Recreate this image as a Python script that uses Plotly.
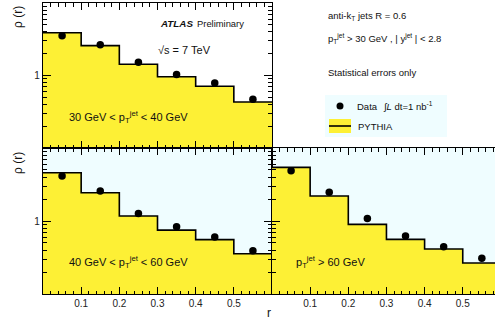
import plotly.graph_objects as go

# ---------------- data ----------------
bin_edges = [0.0, 0.1, 0.2, 0.3, 0.4, 0.5, 0.6]
bin_centers = [0.05, 0.15, 0.25, 0.35, 0.45, 0.55]

# 30 GeV < pT < 40 GeV
mc_30_40 = [3.88, 2.58, 1.43, 0.96, 0.71, 0.43]
data_30_40 = [3.53, 2.66, 1.52, 1.03, 0.79, 0.47]
# 40 GeV < pT < 60 GeV
mc_40_60 = [4.59, 2.44, 1.17, 0.75, 0.555, 0.356]
data_40_60 = [4.13, 2.58, 1.27, 0.836, 0.604, 0.392]
# pT > 60 GeV
mc_60 = [5.43, 2.20, 0.90, 0.561, 0.413, 0.266]
data_60 = [4.89, 2.47, 1.08, 0.624, 0.445, 0.308]

x_tick_vals = [0.1, 0.2, 0.3, 0.4, 0.5]
x_tick_text = ["0.1", "0.2", "0.3", "0.4", "0.5"]
y_tick_vals = [1]
y_tick_text = ["1"]
y_minor_vals = [0.2, 0.3, 0.4, 0.5, 0.6, 0.7, 0.8, 0.9, 2, 3, 4, 5, 6, 7, 8, 9]

# ---------------- style ----------------
W, H = 495, 323
YELLOW = "#fdf035"
CYAN = "#effdff"
FONT = "Liberation Sans, Arial, Helvetica, sans-serif"


def px(x):
    return x / W


def py(y):
    return 1 - y / H


fig = go.Figure()

panels = [
    ("x", "y", mc_30_40, data_30_40),
    ("x2", "y2", mc_40_60, data_40_60),
    ("x3", "y3", mc_60, data_60),
]

for xa, ya, mc, dat in panels:
    fig.add_trace(go.Bar(x=bin_centers, y=mc, width=0.1, marker=dict(color=YELLOW, line=dict(width=0)),
                         xaxis=xa, yaxis=ya, showlegend=False, hoverinfo="skip"))
    fig.add_trace(go.Scatter(x=bin_edges, y=mc + [mc[-1]], mode="lines", line=dict(color="black", width=1.6, shape="hv"),
                             xaxis=xa, yaxis=ya, showlegend=False, hoverinfo="skip"))
    fig.add_trace(go.Scatter(x=bin_centers, y=dat, mode="markers", marker=dict(color="black", size=7.5),
                             xaxis=xa, yaxis=ya, showlegend=False))

left_dom = [px(43), px(272)]
right_dom = [px(272), 1.0]
top_dom = [py(148), py(3)]
bot_dom = [py(294), py(148)]

common_x = dict(range=[0, 0.6], showline=True, linecolor="black", linewidth=1.2, mirror="allticks",
                ticks="inside", ticklen=7, tickwidth=1, tickcolor="black", tickvals=x_tick_vals,
                ticktext=x_tick_text, showgrid=False, zeroline=False,
                tickfont=dict(family=FONT, size=10, color="#222"),
                minor=dict(ticks="inside", dtick=0.02, tick0=0, ticklen=3.5, tickcolor="black", showgrid=False))
common_y = dict(type="log", range=[-1, 1], showline=True, linecolor="black", linewidth=1.2, mirror="allticks",
                ticks="inside", ticklen=8, tickwidth=1, tickcolor="black", tickvals=y_tick_vals,
                ticktext=y_tick_text, showgrid=False, zeroline=False,
                tickfont=dict(family=FONT, size=10, color="#222"),
                minor=dict(ticks="inside", tickvals=y_minor_vals, ticklen=4, tickcolor="black", showgrid=False))

fig.update_layout(
    xaxis=dict(common_x, domain=left_dom, anchor="y", showticklabels=False),
    yaxis=dict(common_y, domain=top_dom, anchor="x"),
    xaxis2=dict(common_x, domain=left_dom, anchor="y2"),
    yaxis2=dict(common_y, domain=bot_dom, anchor="x2"),
    xaxis3=dict(common_x, domain=right_dom, anchor="y3", range=[0, (495 - 272) / 381.5]),
    yaxis3=dict(common_y, domain=bot_dom, anchor="x3", showticklabels=False, mirror=False),
)

shapes = [
    dict(type="rect", xref="x2 domain", yref="y2 domain", x0=0, x1=1, y0=0, y1=1, fillcolor=CYAN,
         line=dict(width=0), layer="below"),
    dict(type="rect", xref="x3 domain", yref="y3 domain", x0=0, x1=1, y0=0, y1=1, fillcolor=CYAN,
         line=dict(width=0), layer="below"),
    # legend box
    dict(type="rect", xref="paper", yref="paper", x0=px(325), x1=px(447), y0=py(137), y1=py(95),
         fillcolor=CYAN, line=dict(width=0), layer="below"),
    dict(type="rect", xref="paper", yref="paper", x0=px(329), x1=px(351), y0=py(133), y1=py(119),
         fillcolor=YELLOW, line=dict(width=0)),
    dict(type="line", xref="paper", yref="paper", x0=px(329), x1=px(351), y0=py(126), y1=py(126),
         line=dict(color="black", width=1.6)),
    dict(type="circle", xref="paper", yref="paper", x0=px(336.5), x1=px(343.5), y0=py(109.5), y1=py(102.5),
         fillcolor="black", line=dict(width=0)),
]


def txt(x, y, text, size, anchor="left", angle=0, yanchor="middle"):
    return dict(x=px(x), y=py(y), xref="paper", yref="paper", text=text, showarrow=False,
                xanchor=anchor, yanchor=yanchor, textangle=angle,
                font=dict(family=FONT, size=size, color="#111"))


ptjet = "p<sub>T</sub><sup>jet</sup>"
annotations = [
    txt(158, 24, "<b><i>ATLAS</i></b>", 9.8),
    txt(195, 24, "Preliminary", 9.4),
    txt(156, 50, "√s = 7 TeV", 11),
    txt(67, 117, "30 GeV &lt; " + ptjet + " &lt; 40 GeV", 11),
    txt(67, 262, "40 GeV &lt; " + ptjet + " &lt; 60 GeV", 11),
    txt(294, 262, ptjet + " &gt; 60 GeV", 11),
    txt(326, 16, "anti-k<sub>T</sub> jets R = 0.6", 9.5),
    txt(326, 38, ptjet + " &gt; 30 GeV , | y<sup>jet</sup> | &lt; 2.8", 9.5),
    txt(326, 72, "Statistical errors only", 9.5),
    txt(355, 106, "Data", 9.5),
    txt(381, 106, "∫<i>L</i> dt=1 nb<sup>-1</sup>", 9.5),
    txt(356, 126, "PYTHIA", 9.5),
    txt(18, 17, "ρ (r)", 12, anchor="center", angle=-90),
    txt(18, 163, "ρ (r)", 12, anchor="center", angle=-90),
    txt(269, 313, "r", 12, anchor="center"),
]

fig.update_layout(
    width=W, height=H, margin=dict(l=0, r=0, t=0, b=0),
    paper_bgcolor="white", plot_bgcolor="white",
    shapes=shapes, annotations=annotations, showlegend=False, barmode="overlay",
    bargap=0,
)

fig.write_html("out.html", config={"displayModeBar": False, "staticPlot": True},
               post_script="document.body.style.margin='0';document.body.style.overflow='hidden';")
